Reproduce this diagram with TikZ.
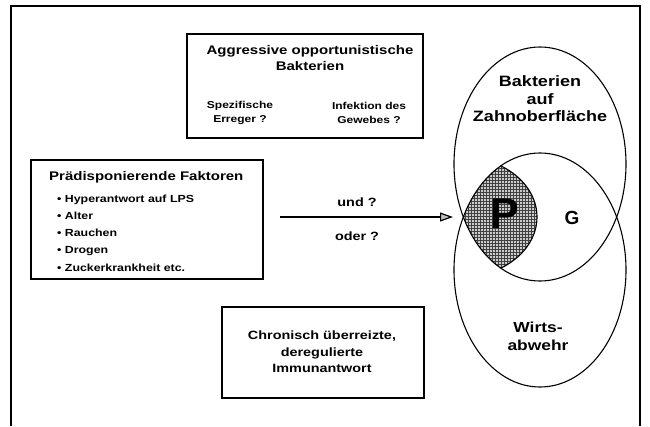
\documentclass[tikz,border=0pt]{standalone}
\usepackage{fontspec}
\newfontfamily\figfont{Liberation Sans}[FakeStretch=1.2]
\newfontfamily\letterfont{Liberation Sans}
\usetikzlibrary{arrows.meta,patterns}

\begin{document}
\begin{tikzpicture}[x=1pt,y=-1pt,
    box/.style={draw,line width=1.5pt,inner sep=0pt},
    lbl/.style={inner sep=0pt,align=center},
    venn/.style={line width=1.1pt}]

    \useasboundingbox (0,0) rectangle (650,426);

    % Outer frame, open at the bottom
    \draw[line width=1.3pt] (11,426) -- (11,6) -- (640,6) -- (640,426);

    % Three boxes
    \node[box,minimum width=236pt,minimum height=104pt] (aggr) at (305,86) {};
    \node[box,minimum width=232pt,minimum height=119pt] (praed) at (147,219.5) {};
    \node[box,minimum width=202pt,minimum height=91pt] (immun) at (323,352.5) {};

    % Top box texts
    \node[lbl,font=\figfont\bfseries\fontsize{12.5}{16}\selectfont] (aggrT) at (310,58.5)
      {Aggressive opportunistische\\Bakterien};
    \node[lbl,font=\figfont\bfseries\fontsize{10}{14}\selectfont] (spez) at (240,113.4)
      {Spezifische\\Erreger ?};
    \node[lbl,font=\figfont\bfseries\fontsize{10}{14}\selectfont] (infek) at (369,113.4)
      {Infektion des\\Gewebes ?};

    % Left box: title and list
    \node[lbl,anchor=base west,font=\figfont\bfseries\fontsize{12.5}{15}\selectfont] (praedT) at (49,180)
      {Prädisponierende Faktoren};
    \foreach \txt [count=\i from 0] in {Hyperantwort auf LPS,Alter,Rauchen,Drogen,Zuckerkrankheit etc.} {
      \node[lbl,anchor=base west,font=\figfont\bfseries\fontsize{10.3}{12}\selectfont] (f\i) at (57,202+17.3*\i)
        {\textbullet\ \txt};
    }

    % Bottom box text
    \node[lbl,font=\figfont\bfseries\fontsize{12}{16.5}\selectfont] (immunT) at (322,352.1)
      {Chronisch überreizte,\\deregulierte\\Immunantwort};

    % Shaded part of the overlap
    \begin{scope}
      \clip (540,164) ellipse [x radius=86, y radius=117];
      \clip (540,270) ellipse [x radius=86, y radius=117];
      \fill[gray!40] (461,217) ellipse [x radius=76, y radius=60];
      \fill[pattern=grid,pattern color=black!75] (461,217) ellipse [x radius=76, y radius=60];
      \draw[venn] (461,217) ellipse [x radius=76, y radius=60];
    \end{scope}

    % Two ellipses
    \draw[venn] (540,164) ellipse [x radius=86, y radius=117];
    \draw[venn] (540,270) ellipse [x radius=86, y radius=117];

    % Ellipse labels
    \node[lbl,font=\figfont\bfseries\fontsize{15}{17.5}\selectfont] (bakt) at (540,99)
      {Bakterien\\auf\\Zahnoberfläche};
    \node[lbl,font=\figfont\bfseries\fontsize{14.5}{18}\selectfont] (wirt) at (538,336.8)
      {Wirts-\\abwehr};
    \node[lbl,anchor=base,font=\letterfont\bfseries\fontsize{43}{43}\selectfont] (P) at (505,228) {P};
    \node[lbl,anchor=base,font=\letterfont\bfseries\fontsize{19}{19}\selectfont] (G) at (572,224) {G};

    % Arrow with its two labels
    \coordinate (arrS) at (280,217);
    \coordinate (arrT) at (453,217);
    \draw[line width=1.2pt,-{Triangle[length=13pt,width=9pt,fill=gray!50]}] (arrS) -- (arrT);
    \node[lbl,anchor=base,font=\figfont\bfseries\fontsize{12}{14}\selectfont] (und) at (357,206) {und ?};
    \node[lbl,anchor=base,font=\figfont\bfseries\fontsize{12}{14}\selectfont] (oder) at (357,240) {oder ?};

\end{tikzpicture}
\end{document}
